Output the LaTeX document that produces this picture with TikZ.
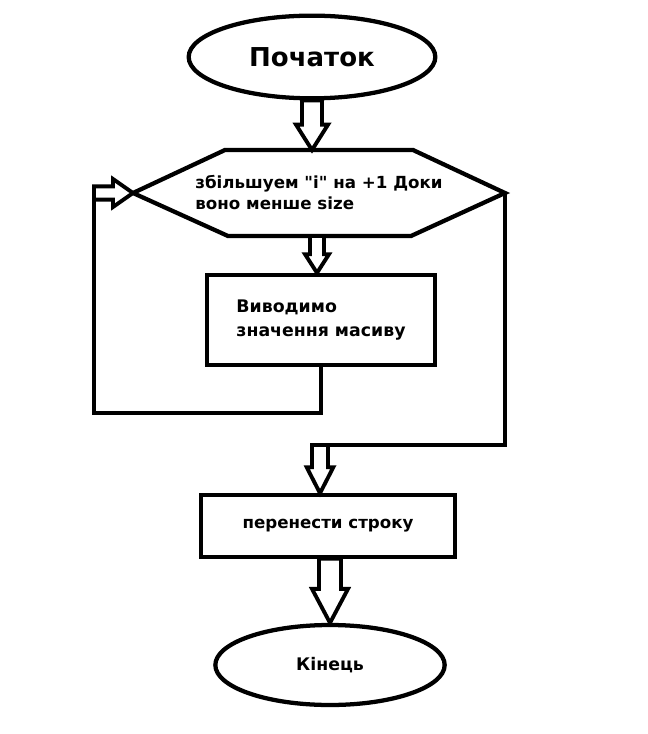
\documentclass[tikz,border=0pt]{standalone}
\usepackage{fontspec}
\setmainfont{DejaVu Sans}[Ligatures=TeXOff]
\usetikzlibrary{calc,shapes.geometric}

% hollow block arrow: from, to, half shaft, half head, head length
\newcommand{\blockarrow}[5]{%
  \coordinate (ba) at ($#2!#5!#1$);
  \draw[block arrow] ($#1!#3!90:#2$) -- ($(ba)!#3!90:#2$) -- ($(ba)!#4!90:#2$) -- #2
    -- ($(ba)!#4!-90:#2$) -- ($(ba)!#3!-90:#2$) -- ($#1!#3!-90:#2$) -- cycle;
}

\begin{document}
\begin{tikzpicture}[x=0.75pt,y=-0.75pt,line join=miter,
  term/.style={draw,ellipse,line width=3.2pt,inner sep=0pt},
  proc/.style={draw,rectangle,line width=3.2pt,inner sep=0pt},
  flow/.style={line width=3.2pt},
  block arrow/.style={line width=2.9pt,fill=white}]

\useasboundingbox (0,0) rectangle (648,734);

\node[term,minimum width=185pt,minimum height=62pt,font=\bfseries\fontsize{19.5}{24}\selectfont] (start) at (312,57) {Початок};

% loop condition
\node[align=left,font=\bfseries\fontsize{12.5}{15.75}\selectfont] (cond) at (319,193) {збільшуем "і" на +1 Доки\\воно менше size};
\coordinate (hexW) at (133,193);
\coordinate (hexE) at (505,193);
\coordinate (hexN) at (312,150);
\coordinate (hexS) at (317,236);
\draw[flow] (hexW) -- (225,150) -- (413,150) -- (hexE) -- (411,236) -- (228,236) -- cycle;

\node[proc,minimum width=171pt,minimum height=67.5pt,align=left,font=\bfseries\fontsize{13}{18}\selectfont] (show) at (321,320) {Виводимо\\значення масиву};

\node[proc,minimum width=190pt,minimum height=46pt,font=\bfseries\fontsize{12.5}{15}\selectfont] (nl) at (328,526) {перенести строку};

\node[term,minimum width=172pt,minimum height=60pt,font=\bfseries\fontsize{13}{16}\selectfont] (stop) at (330,665) {Кінець};

% back to the condition
\coordinate (loopB) at (94,413);
\coordinate (loopL) at (94,193);
\draw[flow] (show.south) |- (loopB) -- (loopL);

% out of the loop
\coordinate (joinR) at (320,445);
\draw[flow] (hexE) |- (joinR);

\blockarrow{(start.south)}{(hexN)}{7.5pt}{12pt}{19pt}
\blockarrow{(hexS)}{(hexS |- show.north)}{5.25pt}{9pt}{14pt}
\blockarrow{(loopL)}{(hexW)}{5pt}{10.5pt}{15pt}
\blockarrow{(joinR)}{(joinR |- nl.north)}{6pt}{10pt}{19.5pt}
\blockarrow{(nl.south -| stop.north)}{(stop.north)}{8.25pt}{13.5pt}{25.5pt}

\end{tikzpicture}
\end{document}
